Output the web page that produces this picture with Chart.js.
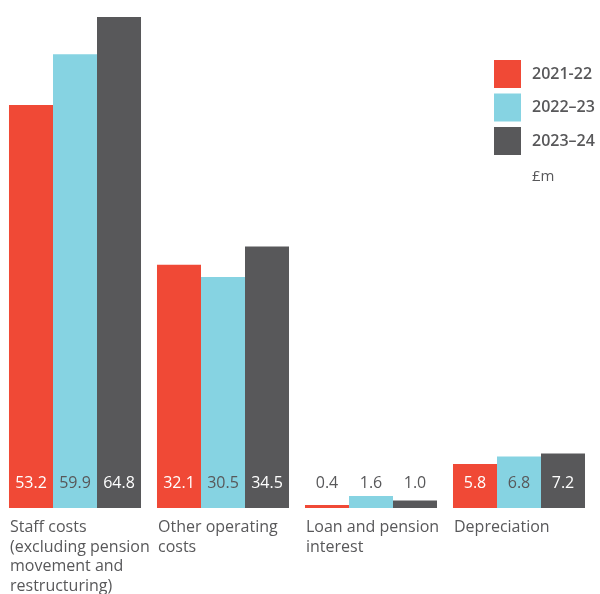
<!DOCTYPE html>
<html>
<head>
<meta charset="utf-8">
<script src="https://cdn.jsdelivr.net/npm/chart.js@4"></script>
<style>
  html, body { margin: 0; padding: 0; background: #fff; }
  #wrap { width: 600px; height: 594px; position: relative; }
</style>
</head>
<body>
<div id="wrap"><canvas id="costChart"></canvas></div>
<script>
var categories = [
    ['Staff costs', '(excluding pension', 'movement and', 'restructuring)'],
    ['Other operating', 'costs'],
    ['Loan and pension', 'interest'],
    ['Depreciation']
];
var years = ['2021-22', '2022\u201323', '2023\u201324'];
var costs2122 = [53.2, 32.1, 0.4, 5.8];
var costs2223 = [59.9, 30.5, 1.6, 6.8];
var costs2324 = [64.8, 34.5, 1.0, 7.2];
var unitLabel = '\u00a3m';

var barColours = ['#F04936', '#86D3E2', '#58585A'];
var labelColours = ['#ffffff', '#58585A', '#ffffff'];
var greyText = '#58585A';
var fontFamily = '"Open Sans", sans-serif';

// value labels sit in a row just above the baseline
var valueLabels = {
    id: 'valueLabels',
    afterDatasetsDraw: function (chart) {
        var ctx = chart.ctx;
        var base = chart.scales.y.getPixelForValue(0);
        var textY = base - 25;
        ctx.save();
        ctx.font = '16px ' + fontFamily;
        ctx.textAlign = 'center';
        ctx.textBaseline = 'middle';
        chart.data.datasets.forEach(function (ds, i) {
            chart.getDatasetMeta(i).data.forEach(function (bar, j) {
                var inside = bar.y < textY - 10;
                ctx.fillStyle = inside ? labelColours[i] : greyText;
                ctx.fillText(ds.data[j].toFixed(1), bar.x, textY);
            });
        });
        ctx.restore();
    }
};

// square swatches in the top right corner, with the unit below
var cornerLegend = {
    id: 'cornerLegend',
    afterDraw: function (chart) {
        var ctx = chart.ctx;
        var x = chart.width - 106;
        ctx.save();
        ctx.textBaseline = 'middle';
        ctx.textAlign = 'left';
        chart.data.datasets.forEach(function (ds, i) {
            var y = 60 + i * 33.5;
            ctx.fillStyle = ds.backgroundColor;
            ctx.fillRect(x, y, 27, 28);
            ctx.fillStyle = greyText;
            ctx.font = '600 16px ' + fontFamily;
            ctx.fillText(ds.label, x + 38, y + 14);
        });
        ctx.font = '15px ' + fontFamily;
        ctx.fillText(unitLabel, x + 38, 177);
        ctx.restore();
    }
};

new Chart(document.getElementById('costChart'), {
    type: 'bar',
    data: {
        labels: categories,
        datasets: [
            { label: years[0], data: costs2122, backgroundColor: barColours[0] },
            { label: years[1], data: costs2223, backgroundColor: barColours[1] },
            { label: years[2], data: costs2324, backgroundColor: barColours[2] }
        ]
    },
    options: {
        responsive: true,
        maintainAspectRatio: false,
        animation: false,
        layout: { padding: { top: 17, left: 1, right: 7, bottom: 0 } },
        datasets: {
            bar: { categoryPercentage: 0.892, barPercentage: 1, borderWidth: 0 }
        },
        plugins: {
            legend: { display: false },
            tooltip: { enabled: false }
        },
        scales: {
            x: {
                grid: { display: false, drawTicks: false },
                border: { display: false },
                ticks: {
                    color: greyText,
                    font: { family: fontFamily, size: 16, lineHeight: 1.22 },
                    align: 'start',
                    labelOffset: -65,
                    padding: 10,
                    autoSkip: false,
                    maxRotation: 0,
                    minRotation: 0
                },
                // keep the wrapped labels from squeezing the plot
                afterFit: function (scale) {
                    scale.paddingLeft = 0;
                    scale.paddingRight = 0;
                    scale.height = 86;
                }
            },
            y: {
                display: false,
                min: 0,
                max: 64.8
            }
        }
    },
    plugins: [valueLabels, cornerLegend]
});
</script>
</body>
</html>
